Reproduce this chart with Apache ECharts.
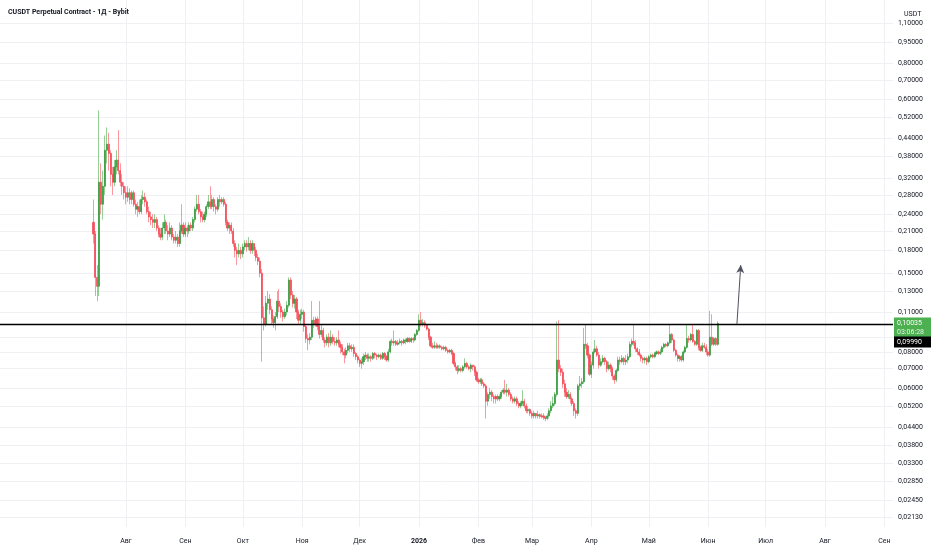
<!DOCTYPE html>
<html>
<head>
<meta charset="utf-8">
<script src="https://cdn.jsdelivr.net/npm/echarts@6/dist/echarts.min.js"></script>
<style>
  html, body { margin: 0; padding: 0; background: #fff; }
  #chart { width: 932px; height: 550px; }
</style>
</head>
<body>
<div id="chart"></div>
<script>
// daily candles, first one on 15 Jul 2025, open = previous close
var DAY = 86400000;
var firstDay = Date.UTC(2025, 6, 15);
var firstOpen = 0.225;

var closes = [
  0.205, 0.145, 0.135, 0.31, 0.26, 0.30, 0.40, 0.42, 0.39, 0.33,
  0.31, 0.35, 0.37, 0.34, 0.31, 0.30, 0.285, 0.275, 0.285, 0.27,
  0.285, 0.26, 0.25, 0.255, 0.245, 0.27, 0.275, 0.265, 0.245, 0.235,
  0.23, 0.225, 0.23, 0.215, 0.205, 0.20, 0.215, 0.225, 0.21, 0.205,
  0.215, 0.20, 0.195, 0.20, 0.19, 0.21, 0.22, 0.205, 0.215, 0.21,
  0.22, 0.215, 0.23, 0.25, 0.26, 0.245, 0.235, 0.23, 0.24, 0.255,
  0.265, 0.255, 0.27, 0.255, 0.25, 0.27, 0.265, 0.27, 0.26, 0.225,
  0.215, 0.22, 0.21, 0.19, 0.18, 0.175, 0.18, 0.175, 0.185, 0.19,
  0.185, 0.19, 0.18, 0.19, 0.18, 0.17, 0.165, 0.15, 0.105, 0.10,
  0.118, 0.122, 0.112, 0.104, 0.101, 0.106, 0.12, 0.115, 0.11, 0.106,
  0.11, 0.116, 0.142, 0.126, 0.118, 0.122, 0.11, 0.103, 0.108, 0.11,
  0.098, 0.089, 0.088, 0.09, 0.103, 0.10, 0.104, 0.098, 0.092, 0.095,
  0.088, 0.086, 0.09, 0.086, 0.09, 0.087, 0.086, 0.088, 0.085, 0.083,
  0.08, 0.078, 0.081, 0.084, 0.082, 0.083, 0.079, 0.077, 0.075, 0.073,
  0.074, 0.077, 0.078, 0.076, 0.077, 0.076, 0.079, 0.078, 0.077, 0.078,
  0.076, 0.079, 0.077, 0.075, 0.08, 0.087, 0.086, 0.087, 0.085, 0.086,
  0.087, 0.086, 0.088, 0.087, 0.089, 0.087, 0.089, 0.088, 0.092, 0.095,
  0.103, 0.10, 0.101, 0.099, 0.096, 0.09, 0.084, 0.083, 0.084, 0.083,
  0.084, 0.083, 0.082, 0.083, 0.081, 0.08, 0.081, 0.079, 0.073, 0.071,
  0.069, 0.07, 0.069, 0.071, 0.073, 0.071, 0.07, 0.072, 0.071, 0.068,
  0.064, 0.063, 0.064, 0.062, 0.061, 0.054, 0.057, 0.058, 0.056, 0.055,
  0.056, 0.055, 0.056, 0.058, 0.059, 0.058, 0.059, 0.057, 0.055, 0.054,
  0.055, 0.053, 0.052, 0.053, 0.054, 0.052, 0.05, 0.0505, 0.049, 0.048,
  0.049, 0.048, 0.0485, 0.0478, 0.048, 0.0475, 0.047, 0.048, 0.05, 0.052,
  0.053, 0.057, 0.075, 0.07, 0.068, 0.062, 0.058, 0.056, 0.057, 0.055,
  0.053, 0.05, 0.049, 0.061, 0.062, 0.063, 0.085, 0.084, 0.078, 0.067,
  0.072, 0.08, 0.082, 0.078, 0.072, 0.074, 0.076, 0.074, 0.07, 0.072,
  0.07, 0.066, 0.064, 0.069, 0.075, 0.074, 0.076, 0.074, 0.075, 0.077,
  0.085, 0.087, 0.086, 0.082, 0.08, 0.078, 0.076, 0.075, 0.076, 0.074,
  0.077, 0.078, 0.077, 0.079, 0.08, 0.079, 0.08, 0.083, 0.085, 0.084,
  0.086, 0.092, 0.088, 0.081, 0.078, 0.076, 0.077, 0.075, 0.08, 0.083,
  0.089, 0.088, 0.092, 0.087, 0.085, 0.095, 0.083, 0.081, 0.084, 0.083,
  0.08, 0.078, 0.09, 0.085, 0.089, 0.085, 0.10035
];
var highs = [
  0.27, 0.21, 0.16, 0.55, 0.36, 0.34, 0.45, 0.48, 0.46, 0.40,
  0.35, 0.37, 0.40, 0.47, 0.36, 0.33, 0.31, 0.30, 0.30, 0.295,
  0.29, 0.29, 0.27, 0.265, 0.27, 0.28, 0.29, 0.285, 0.27, 0.255,
  0.245, 0.24, 0.24, 0.235, 0.22, 0.215, 0.225, 0.24, 0.23, 0.22,
  0.225, 0.22, 0.205, 0.21, 0.205, 0.225, 0.26, 0.225, 0.225, 0.22,
  0.225, 0.225, 0.235, 0.255, 0.28, 0.28, 0.25, 0.245, 0.245, 0.26,
  0.28, 0.30, 0.28, 0.275, 0.26, 0.275, 0.28, 0.275, 0.275, 0.265,
  0.23, 0.225, 0.225, 0.215, 0.195, 0.185, 0.19, 0.185, 0.19, 0.195,
  0.195, 0.20, 0.195, 0.195, 0.19, 0.185, 0.175, 0.17, 0.155, 0.115,
  0.125, 0.13, 0.127, 0.115, 0.107, 0.11, 0.13, 0.132, 0.118, 0.112,
  0.113, 0.12, 0.145, 0.145, 0.13, 0.126, 0.124, 0.112, 0.112, 0.113,
  0.112, 0.10, 0.092, 0.093, 0.12, 0.106, 0.106, 0.106, 0.12, 0.10,
  0.097, 0.09, 0.092, 0.093, 0.095, 0.092, 0.09, 0.09, 0.095, 0.087,
  0.085, 0.082, 0.083, 0.086, 0.086, 0.085, 0.085, 0.08, 0.078, 0.076,
  0.076, 0.079, 0.08, 0.079, 0.079, 0.078, 0.08, 0.08, 0.079, 0.079,
  0.079, 0.08, 0.08, 0.078, 0.082, 0.088, 0.089, 0.095, 0.088, 0.088,
  0.089, 0.088, 0.089, 0.089, 0.09, 0.09, 0.09, 0.09, 0.093, 0.096,
  0.108, 0.11, 0.104, 0.103, 0.10, 0.097, 0.091, 0.086, 0.087, 0.086,
  0.085, 0.085, 0.084, 0.084, 0.084, 0.082, 0.082, 0.082, 0.08, 0.074,
  0.072, 0.072, 0.071, 0.072, 0.076, 0.074, 0.072, 0.073, 0.072, 0.072,
  0.069, 0.065, 0.065, 0.065, 0.063, 0.062, 0.058, 0.06, 0.059, 0.057,
  0.057, 0.057, 0.057, 0.059, 0.06, 0.064, 0.062, 0.06, 0.058, 0.056,
  0.056, 0.056, 0.054, 0.054, 0.059, 0.055, 0.053, 0.052, 0.051, 0.05,
  0.05, 0.049, 0.05, 0.049, 0.049, 0.049, 0.048, 0.049, 0.051, 0.054,
  0.056, 0.058, 0.102, 0.103, 0.072, 0.07, 0.064, 0.06, 0.059, 0.058,
  0.056, 0.054, 0.051, 0.062, 0.066, 0.065, 0.097, 0.10, 0.086, 0.079,
  0.074, 0.082, 0.088, 0.084, 0.08, 0.076, 0.078, 0.077, 0.075, 0.074,
  0.073, 0.071, 0.067, 0.07, 0.077, 0.077, 0.078, 0.077, 0.078, 0.079,
  0.087, 0.089, 0.10, 0.088, 0.083, 0.082, 0.079, 0.077, 0.077, 0.077,
  0.078, 0.079, 0.079, 0.08, 0.081, 0.081, 0.082, 0.084, 0.086, 0.086,
  0.087, 0.10, 0.093, 0.089, 0.082, 0.079, 0.078, 0.078, 0.081, 0.084,
  0.10, 0.091, 0.093, 0.10, 0.088, 0.096, 0.096, 0.084, 0.086, 0.086,
  0.085, 0.082, 0.111, 0.108, 0.09, 0.09, 0.102
];
var lows = [
  0.19, 0.125, 0.12, 0.125, 0.24, 0.23, 0.28, 0.36, 0.34, 0.30,
  0.28, 0.30, 0.33, 0.33, 0.30, 0.28, 0.27, 0.26, 0.265, 0.26,
  0.26, 0.255, 0.24, 0.235, 0.24, 0.24, 0.26, 0.255, 0.24, 0.225,
  0.22, 0.215, 0.215, 0.21, 0.20, 0.195, 0.195, 0.205, 0.205, 0.195,
  0.20, 0.195, 0.19, 0.19, 0.185, 0.185, 0.205, 0.20, 0.20, 0.20,
  0.205, 0.21, 0.21, 0.225, 0.245, 0.24, 0.225, 0.225, 0.225, 0.235,
  0.25, 0.25, 0.25, 0.245, 0.24, 0.245, 0.255, 0.26, 0.255, 0.22,
  0.21, 0.205, 0.205, 0.185, 0.17, 0.16, 0.17, 0.168, 0.17, 0.18,
  0.178, 0.18, 0.175, 0.175, 0.172, 0.165, 0.16, 0.145, 0.074, 0.095,
  0.098, 0.112, 0.108, 0.10, 0.097, 0.095, 0.104, 0.11, 0.105, 0.102,
  0.104, 0.107, 0.114, 0.122, 0.114, 0.113, 0.104, 0.10, 0.10, 0.104,
  0.094, 0.086, 0.081, 0.085, 0.088, 0.097, 0.098, 0.095, 0.089, 0.09,
  0.086, 0.083, 0.084, 0.083, 0.084, 0.085, 0.084, 0.084, 0.083, 0.079,
  0.078, 0.073, 0.076, 0.079, 0.08, 0.08, 0.077, 0.075, 0.073, 0.071,
  0.07, 0.072, 0.075, 0.074, 0.074, 0.074, 0.075, 0.076, 0.075, 0.076,
  0.075, 0.075, 0.075, 0.074, 0.074, 0.079, 0.084, 0.084, 0.084, 0.084,
  0.085, 0.084, 0.085, 0.085, 0.086, 0.086, 0.086, 0.086, 0.087, 0.091,
  0.094, 0.098, 0.098, 0.097, 0.095, 0.088, 0.083, 0.082, 0.082, 0.082,
  0.082, 0.082, 0.081, 0.081, 0.08, 0.079, 0.079, 0.078, 0.072, 0.069,
  0.067, 0.068, 0.068, 0.068, 0.07, 0.07, 0.069, 0.068, 0.069, 0.066,
  0.063, 0.062, 0.062, 0.061, 0.06, 0.047, 0.052, 0.055, 0.054, 0.053,
  0.053, 0.054, 0.054, 0.055, 0.057, 0.057, 0.056, 0.056, 0.054, 0.053,
  0.053, 0.052, 0.051, 0.051, 0.052, 0.051, 0.049, 0.049, 0.048, 0.047,
  0.047, 0.047, 0.047, 0.047, 0.047, 0.0465, 0.046, 0.0465, 0.047, 0.049,
  0.051, 0.052, 0.056, 0.068, 0.066, 0.06, 0.056, 0.055, 0.055, 0.053,
  0.052, 0.048, 0.047, 0.048, 0.059, 0.06, 0.062, 0.082, 0.076, 0.066,
  0.065, 0.07, 0.079, 0.077, 0.07, 0.071, 0.073, 0.072, 0.068, 0.069,
  0.068, 0.064, 0.062, 0.063, 0.068, 0.072, 0.073, 0.072, 0.072, 0.073,
  0.076, 0.083, 0.084, 0.08, 0.078, 0.077, 0.074, 0.073, 0.073, 0.072,
  0.073, 0.076, 0.076, 0.076, 0.078, 0.078, 0.078, 0.079, 0.082, 0.083,
  0.083, 0.085, 0.086, 0.08, 0.077, 0.074, 0.074, 0.074, 0.074, 0.079,
  0.082, 0.086, 0.087, 0.086, 0.084, 0.084, 0.081, 0.08, 0.08, 0.082,
  0.078, 0.077, 0.077, 0.084, 0.084, 0.084, 0.084
];

var levelPrice = 0.0999;
var arrowStart = [Date.UTC(2026, 5, 16), 0.0999];
var arrowEnd = [Date.UTC(2026, 5, 18), 0.16];
var countdown = '03:06:28';

var yLabelValues = [1.1, 0.95, 0.8, 0.7, 0.6, 0.52, 0.44, 0.38, 0.32, 0.28, 0.24, 0.21,
  0.18, 0.15, 0.13, 0.11, 0.08, 0.07, 0.06, 0.052, 0.044, 0.038, 0.033, 0.0285, 0.0245, 0.0213];
var yGridValues = yLabelValues.concat([0.09]);
var monthNames = ['Янв', 'Фев', 'Мар', 'Апр', 'Май', 'Июн', 'Июл', 'Авг', 'Сен', 'Окт', 'Ноя', 'Дек'];
var monthStarts = [];
for (var m = 7; m <= 20; m++) monthStarts.push(Date.UTC(2025, m, 1));

var UP = '#3f9d45', DOWN = '#f5505d';
var UP_WICK = 'rgba(76,175,80,0.6)', DOWN_WICK = 'rgba(247,82,95,0.6)';
var FONT = 'Roboto, "Liberation Sans", sans-serif';

function fmt(v) { return v.toFixed(5).replace('.', ','); }

var ohlc = closes.map(function (c, i) {
  var o = i ? closes[i - 1] : firstOpen;
  return [firstDay + i * DAY, o, c, Math.min(lows[i], o, c), Math.max(highs[i], o, c)];
});
var bodies = ohlc.map(function (d) {
  return [d[0], d[1], d[2], Math.min(d[1], d[2]), Math.max(d[1], d[2])];
});

var jan1 = Date.UTC(2026, 0, 1);
var chart = echarts.init(document.getElementById('chart'));

var option = {
  animation: false,
  backgroundColor: '#ffffff',
  textStyle: { fontFamily: FONT },
  title: [
    { text: 'CUSDT Perpetual Contract - 1Д - Bybit', left: 3, top: 4,
      textStyle: { fontSize: 7, fontWeight: 'bold', color: '#131722', fontFamily: FONT } },
    { text: 'USDT', left: 899, top: 6,
      textStyle: { fontSize: 7, fontWeight: 'normal', color: '#131722', fontFamily: FONT } }
  ],
  grid: { left: 0, right: 39, top: 0, bottom: 23, containLabel: false, outerBoundsMode: 'none' },
  xAxis: {
    // timestamps on a plain value axis so the month ticks can be given exactly
    type: 'value',
    min: jan1 - 218.8 * DAY,
    max: jan1 + 247.5 * DAY,
    scale: true,
    axisLine: { show: false },
    axisTick: { show: false, customValues: monthStarts },
    splitLine: { show: true, lineStyle: { color: '#eef0f3', width: 1 } },
    axisLabel: {
      customValues: monthStarts,
      margin: 11,
      fontSize: 7,
      color: '#131722',
      fontFamily: FONT,
      formatter: function (v) {
        var d = new Date(v);
        if (d.getUTCMonth() === 0) return '{y|' + d.getUTCFullYear() + '}';
        return monthNames[d.getUTCMonth()];
      },
      rich: { y: { fontWeight: 'bold', fontSize: 7, color: '#131722', fontFamily: FONT } }
    }
  },
  yAxis: {
    type: 'log',
    position: 'right',
    min: 0.01978,
    max: 1.327,
    axisLine: { show: false },
    axisTick: { show: false, customValues: yGridValues },
    splitLine: { show: true, lineStyle: { color: '#eef0f3', width: 1 } },
    axisLabel: {
      customValues: yLabelValues,
      margin: 5,
      fontSize: 7,
      color: '#131722',
      fontFamily: FONT,
      formatter: fmt
    }
  },
  series: [
    {
      type: 'candlestick',
      data: ohlc,
      encode: { x: 0, y: [1, 2, 3, 4] },
      barWidth: 1,
      itemStyle: { color: UP_WICK, color0: DOWN_WICK, borderColor: UP_WICK, borderColor0: DOWN_WICK, borderWidth: 1 },
      silent: true
    },
    {
      type: 'candlestick',
      data: bodies,
      encode: { x: 0, y: [1, 2, 3, 4] },
      barWidth: 1.6,
      itemStyle: { color: UP, color0: DOWN, borderColor: UP, borderColor0: DOWN, borderWidth: 0.8 },
      silent: true,
      markLine: {
        silent: true,
        symbol: ['none', 'none'],
        label: { show: false },
        data: [
          { yAxis: levelPrice, lineStyle: { color: '#000000', width: 1.3, type: 'solid' } },
          [
            { coord: arrowStart, symbol: 'none', lineStyle: { color: '#50535e', width: 1, type: 'solid' } },
            { coord: arrowEnd, symbol: 'arrow', symbolSize: [6, 8] }
          ]
        ]
      }
    }
  ]
};
chart.setOption(option);

// price boxes on the price scale
var lastClose = closes[closes.length - 1];
var pyLast = chart.convertToPixel({ yAxisIndex: 0 }, lastClose);
var boxX = 894, boxW = 37;
chart.setOption({
  graphic: [
    { type: 'rect', shape: { x: boxX, y: pyLast - 6, width: boxW, height: 20 }, style: { fill: '#4caf50' }, silent: true },
    { type: 'text', x: boxX + 3, y: pyLast, style: { text: fmt(lastClose), fill: '#ffffff', font: '7px ' + FONT, verticalAlign: 'middle' }, silent: true },
    { type: 'text', x: boxX + 3, y: pyLast + 9, style: { text: countdown, fill: 'rgba(255,255,255,0.85)', font: '7px ' + FONT, verticalAlign: 'middle' }, silent: true },
    { type: 'rect', shape: { x: boxX, y: pyLast + 13, width: boxW, height: 11 }, style: { fill: '#000000' }, silent: true },
    { type: 'text', x: boxX + 3, y: pyLast + 18.5, style: { text: fmt(levelPrice), fill: '#ffffff', font: '7px ' + FONT, verticalAlign: 'middle' }, silent: true }
  ]
});
</script>
</body>
</html>
